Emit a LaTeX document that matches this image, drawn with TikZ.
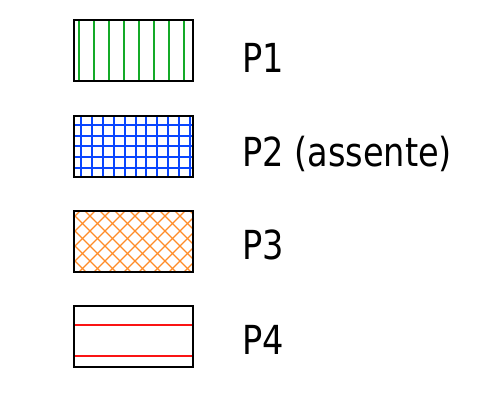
\documentclass[tikz,border=0pt]{standalone}
\usepackage{fontspec}
\setmainfont{DejaVu Sans}[FakeStretch=0.84]
\definecolor{pgreen}{RGB}{20,170,40}
\definecolor{pblue}{RGB}{10,70,255}
\definecolor{porange}{RGB}{255,140,40}
\definecolor{pred}{RGB}{250,20,20}

\begin{document}
\begin{tikzpicture}[x=1pt,y=-1pt,
	box/.style={draw=black,line width=1.4pt,minimum width=119pt,minimum height=61pt,inner sep=0pt,outer sep=0pt,anchor=north west},
	lbl/.style={anchor=base west,inner sep=0pt,font=\fontsize{40}{48}\selectfont},
	hatch/.style={line width=1.4pt}]
	\useasboundingbox (0,0) rectangle (487,396);
	% P1
	\begin{scope}
	\clip (74,20) rectangle (193,81);
	\foreach \px in {79,94,...,185} \draw[hatch,pgreen] (\px,20) -- (\px,81);
	\end{scope}
	\node[box] (b1) at (74,20) {};
	\node[lbl] (l1) at (242,72) {P1};
	% P2
	\begin{scope}
	\clip (74,116) rectangle (193,177);
	\foreach \px in {81,92,103,114,125,136,146,157,168,179,190} \draw[hatch,pblue] (\px,116) -- (\px,177);
	\foreach \py in {125,136,146,157,168} \draw[hatch,pblue] (74,\py) -- (193,\py);
	\end{scope}
	\node[box] (b2) at (74,116) {};
	\node[lbl] (l2) at (242,166) {P2 (assente)};
	% P3
	\begin{scope}
	\clip (74,211) rectangle (193,272);
	\foreach \c in {-201,-186,...,-6} \draw[hatch,porange] (\c+200,200) -- (\c+290,290);
	\foreach \c in {276,291,...,480} \draw[hatch,porange] (\c-200,200) -- (\c-290,290);
	\end{scope}
	\node[box] (b3) at (74,211) {};
	\node[lbl] (l3) at (242,259) {P3};
	% P4
	\draw[hatch,pred] (74,325) -- (193,325);
	\draw[hatch,pred] (74,356) -- (193,356);
	\node[box] (b4) at (74,306) {};
	\node[lbl] (l4) at (242,354) {P4};
\end{tikzpicture}
\end{document}
